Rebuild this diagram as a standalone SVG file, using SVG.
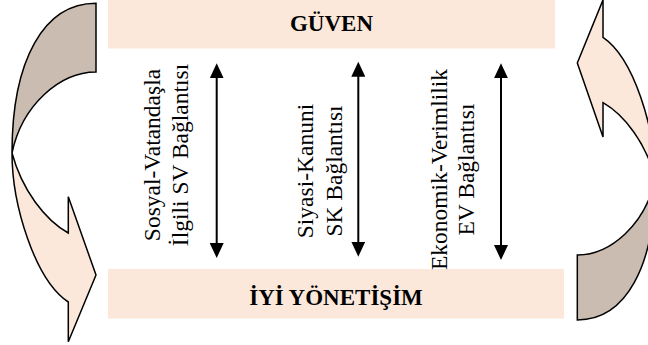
<svg xmlns="http://www.w3.org/2000/svg" width="648" height="345" viewBox="0 0 648 345">
<style>
.box{fill:#FCE8DA;stroke:none}
.title{font-family:"Liberation Serif","Times New Roman",serif;font-weight:bold;font-size:23px;fill:#000;text-anchor:middle}
.lbl{font-family:"Liberation Serif","Times New Roman",serif;font-size:23.5px;fill:#000;text-anchor:middle}
.back{fill:#CABCB0;stroke:#000;stroke-width:1.5;stroke-linejoin:miter}
.front{fill:#FCE8DA;stroke:#000;stroke-width:1.5;stroke-linejoin:miter}
.conn{stroke:#000;stroke-width:2;fill:none}
</style>
<defs>
<marker id="ah" viewBox="0 0 15 14" refX="5" refY="7" markerWidth="15" markerHeight="14" markerUnits="userSpaceOnUse" orient="auto-start-reverse">
<path d="M0,0 L15,7 L0,14 Z" fill="#000"/>
</marker>
<g id="curved">
<path class="back" vector-effect="non-scaling-stroke" d="M96,3.3 C43.7,3.3 12,60 12,153 C22,105 60,72 96,72 Z"/>
<path class="front" vector-effect="non-scaling-stroke" d="M12,153 C12,205 35,280 68.3,302 L68.3,341.7 L96,275 L68.3,196.7 L68.3,233 C45,220 22,190 12,153 Z"/>
</g>
</defs>
<g id="guven">
<rect class="box" x="108" y="0" width="447" height="48.5"/>
<text class="title" x="331.5" y="30.5">GÜVEN</text>
</g>
<g id="iyi-yonetisim">
<rect class="box" x="108" y="269" width="456" height="49.5"/>
<text class="title" x="336" y="305">İYİ YÖNETİŞİM</text>
</g>
<g id="left-curved-arrow">
<use href="#curved"/>
</g>
<g id="right-curved-arrow">
<use href="#curved" transform="matrix(-0.928 0 0 -0.946 666.4 323.1)"/>
</g>
<g id="connectors">
<line class="conn" x1="216.7" y1="73.3" x2="216.7" y2="248" marker-start="url(#ah)" marker-end="url(#ah)"/>
<line class="conn" x1="358.3" y1="71.7" x2="358.3" y2="246.7" marker-start="url(#ah)" marker-end="url(#ah)"/>
<line class="conn" x1="501" y1="73.3" x2="501" y2="250" marker-start="url(#ah)" marker-end="url(#ah)"/>
</g>
<g id="label-sv">
<text class="lbl" transform="translate(160,155) rotate(-90)">Sosyal-Vatandaşla</text>
<text class="lbl" transform="translate(188,155) rotate(-90)">İlgili SV Bağlantısı</text>
</g>
<g id="label-sk">
<text class="lbl" transform="translate(312.7,171) rotate(-90)">Siyasi-Kanuni</text>
<text class="lbl" transform="translate(341.7,171) rotate(-90)">SK Bağlantısı</text>
</g>
<g id="label-ev">
<text class="lbl" transform="translate(446.7,169.5) rotate(-90)">Ekonomik-Verimlilik</text>
<text class="lbl" transform="translate(474.3,169.5) rotate(-90)">EV Bağlantısı</text>
</g>
</svg>
